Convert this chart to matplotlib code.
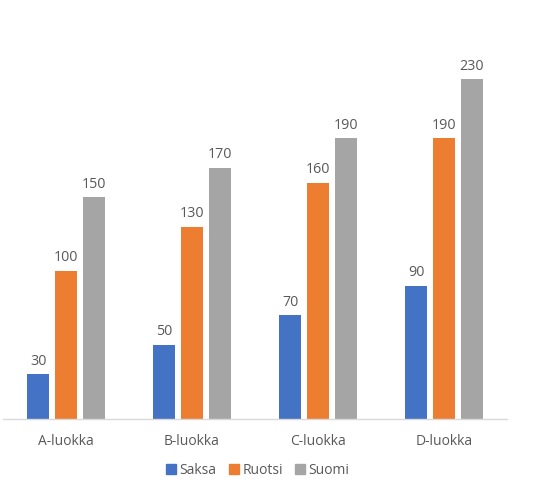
import numpy as np
import matplotlib
matplotlib.use("Agg")
import matplotlib.pyplot as plt
from matplotlib.patches import Patch

categories = ["A-luokka", "B-luokka", "C-luokka", "D-luokka"]
series_names = ["Saksa", "Ruotsi", "Suomi"]
saksa = [30, 50, 70, 90]
ruotsi = [100, 130, 160, 190]
suomi = [150, 170, 190, 230]

colors = ["#4472C4", "#ED7D31", "#A5A5A5"]
text_col = "#595959"

plt.rcParams['font.family'] = ['Open Sans', 'DejaVu Sans']

fig = plt.figure(figsize=(5.34, 4.98), dpi=100)
ax = fig.add_axes([3 / 534, 0.1596, 504 / 534, 0.9001 - 0.1596])

x = np.arange(len(categories))
width = 0.18
step = 0.222
for i, (vals, col) in enumerate(zip([saksa, ruotsi, suomi], colors)):
    bars = ax.bar(x + (i - 1) * step, vals, width, color=col, label=series_names[i])
    for b, v in zip(bars, vals):
        ax.annotate(str(v), (b.get_x() + b.get_width() / 2, v),
                    xytext=(0, 4), textcoords="offset points",
                    ha="center", va="bottom", fontsize=10.3, color=text_col)

ax.set_xlim(-0.5, len(categories) - 0.5)
ax.set_ylim(0, 250)
ax.set_xticks(x)
ax.set_xticklabels(categories, fontsize=10, color=text_col)
ax.tick_params(axis="x", length=0, pad=11)
ax.set_yticks([])
for s in ["top", "left", "right"]:
    ax.spines[s].set_visible(False)
ax.spines["bottom"].set_color("#D9D9D9")
ax.spines["bottom"].set_linewidth(1.0)

handles = [Patch(color=c) for c in colors]
fig.legend(handles, series_names, loc="center", bbox_to_anchor=(258 / 534, 1 - 470 / 498),
           ncol=3, frameon=False, fontsize=10, labelcolor=text_col,
           handlelength=0.7, handleheight=0.7, handletextpad=0.25, columnspacing=0.9)

fig.savefig("out.png", dpi=100)
